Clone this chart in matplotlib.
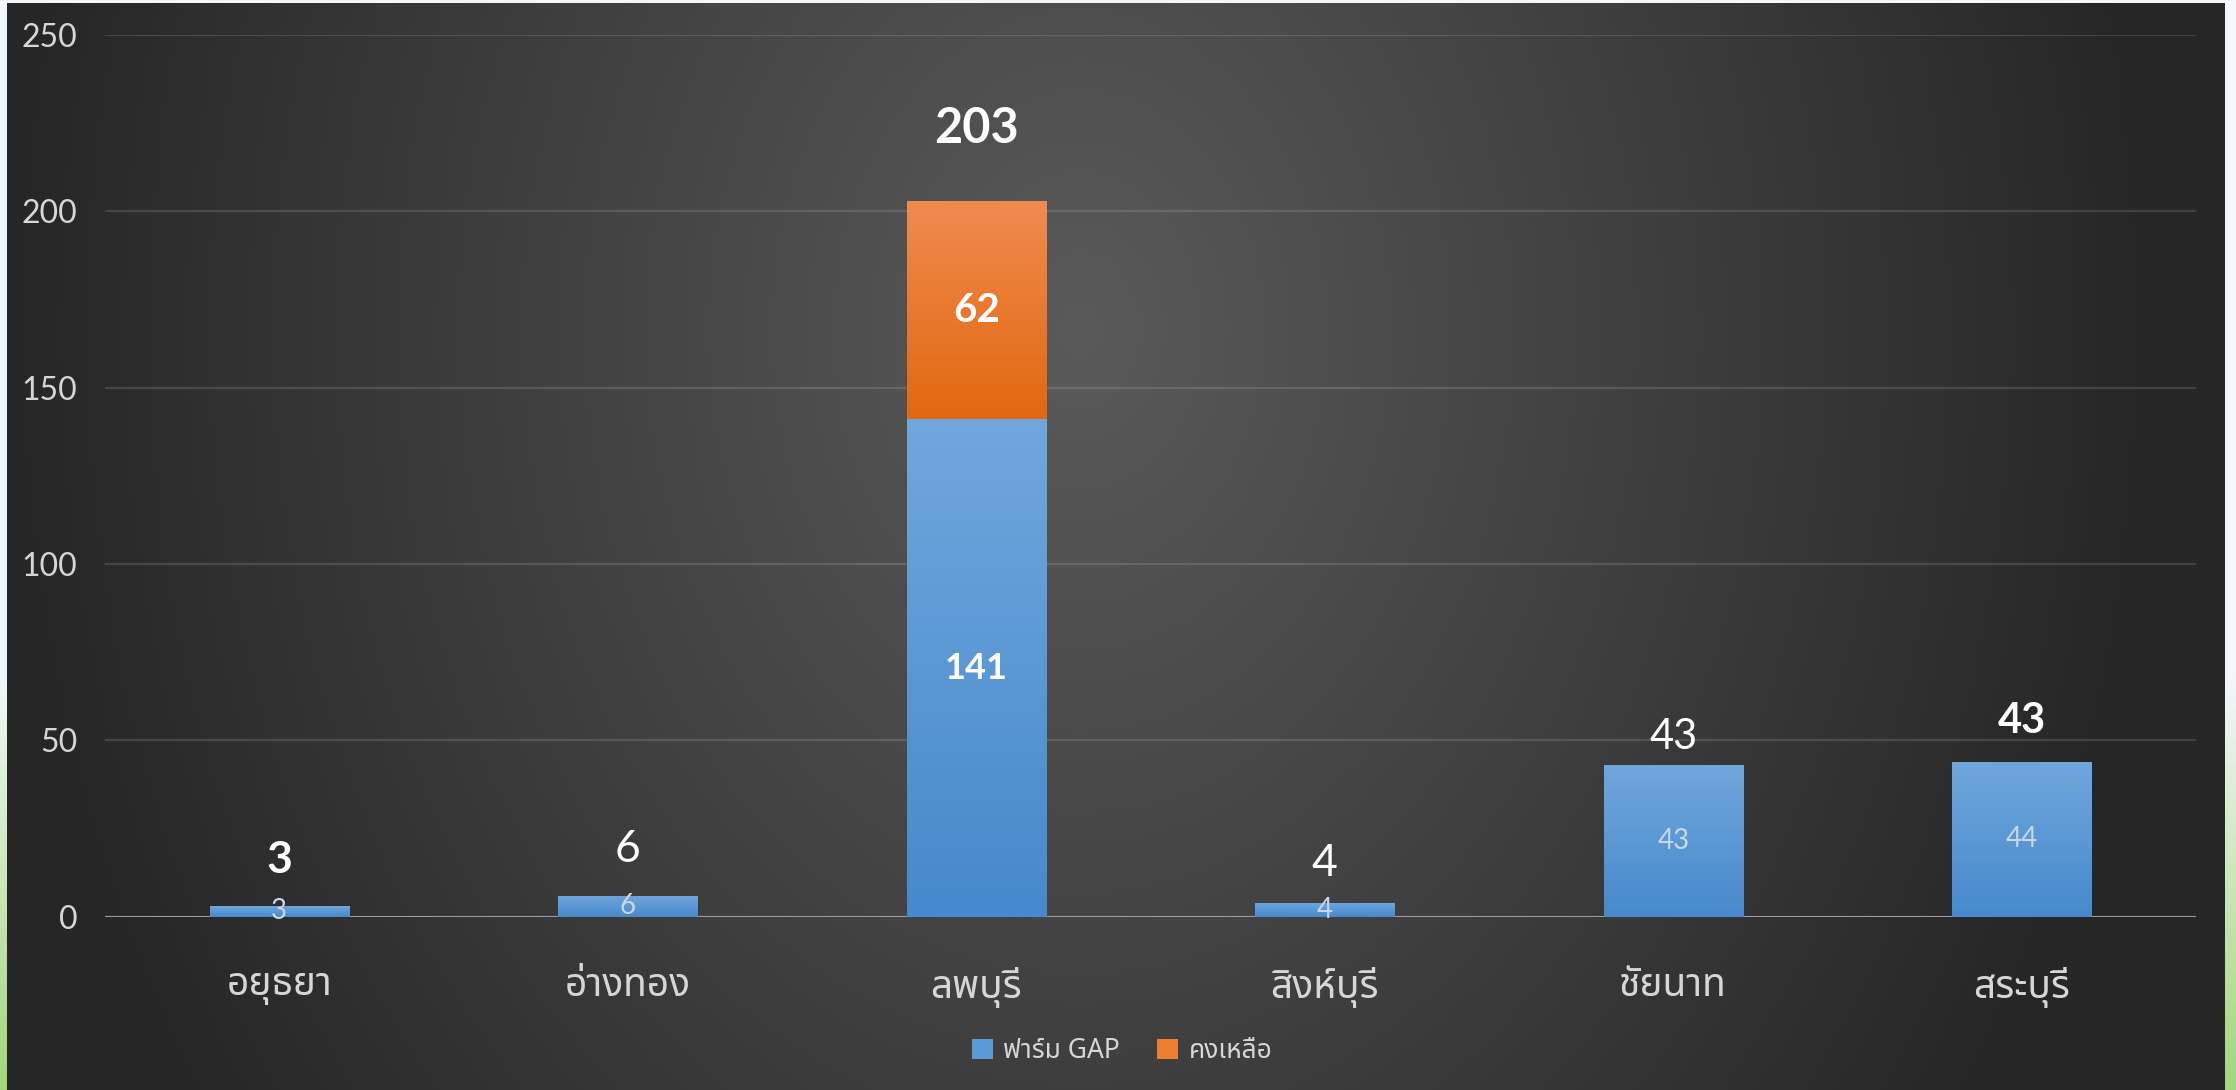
import numpy as np
import matplotlib
matplotlib.use('Agg')
import matplotlib.pyplot as plt
from matplotlib import font_manager
from matplotlib.ft2font import FT2Font
from matplotlib.colors import LinearSegmentedColormap
from matplotlib.patches import Patch

# ข้อมูล
provinces = ['อยุธยา', 'อ่างทอง', 'ลพบุรี', 'สิงห์บุรี', 'ชัยนาท', 'สระบุรี']
gap_farms = [3, 6, 141, 4, 43, 44]
remaining = [0, 0, 62, 0, 0, 0]
total_labels = ['3', '6', '203', '4', '43', '43']
series_names = ['ฟาร์ม GAP', 'คงเหลือ']
y_ticks = [0, 50, 100, 150, 200, 250]

# รูปแบบของป้ายตัวเลขด้านบน (ระยะห่าง pt, ขนาด, ความหนา)
top_offsets = [33, 33, 52, 28, 20, 29]
top_sizes = [32, 32, 35, 32, 30, 30]
top_weights = ['bold', 'normal', 'bold', 'normal', 'normal', 'bold']


def find_thai_font():
    names = []
    for f in font_manager.fontManager.ttflist:
        try:
            if ord('ก') in FT2Font(f.fname).get_charmap():
                names.append(f.name)
        except Exception:
            continue
    for pref in ['Noto Sans Thai', 'Noto Sans Thai UI', 'Loma', 'Tlwg Typo', 'Garuda']:
        if pref in names:
            return pref
    return names[0] if names else None


thai = find_thai_font()
thai_family = [thai, 'DejaVu Sans'] if thai else ['DejaVu Sans']
num_family = ['Lato', 'DejaVu Sans']
plt.rcParams['font.family'] = thai_family

fig = plt.figure(figsize=(22.36, 10.9), dpi=100, facecolor='#f3f7fb')
W, H = 2236.0, 1090.0

# แถบขอบด้านข้าง (ไล่สีเขียว)
edge_cmap = LinearSegmentedColormap.from_list(
    'edge', [(0, '#f3f7fb'), (0.62, '#f3f7fb'), (1.0, '#a3d67a')])
for x0, w in [(0, 7), (2225, 11)]:
    ea = fig.add_axes([x0 / W, 0, w / W, 1])
    ea.imshow(np.linspace(0, 1, 256).reshape(-1, 1), cmap=edge_cmap,
              aspect='auto', extent=[0, 1, 1, 0])
    ea.axis('off')

# พื้นหลังแบบไล่สีรัศมี
bg = fig.add_axes([7 / W, 0, (2225 - 7) / W, 1 - 3 / H])
xx, yy = np.meshgrid(np.linspace(7, 2225, 600), np.linspace(3, 1090, 300))
d = np.sqrt(((xx - 1080) / 1080) ** 2 + ((yy - 330) / 1400) ** 2)
shade = (38 + 52 * np.clip(1 - d, 0, 1)) / 255.0
bg.imshow(np.dstack([shade, shade, shade]), aspect='auto', extent=[0, 1, 0, 1])
bg.axis('off')

ax = fig.add_axes([105 / W, 1 - 916.7 / H, (2196 - 105) / W, (916.7 - 35) / H])
ax.set_facecolor('none')
x = np.arange(len(provinces))

b1 = ax.bar(x, gap_farms, width=0.4, color='#5b9bd5', zorder=3)
b2 = ax.bar(x, remaining, width=0.4, bottom=gap_farms, color='#ed7d31', zorder=3)

grad = np.linspace(0, 1, 256).reshape(-1, 1)
for bars, bottom_c, top_c in [(b1, '#4689cc', '#70a7dd'), (b2, '#e2680f', '#f08b50')]:
    cmap = LinearSegmentedColormap.from_list('g', [bottom_c, top_c])
    for b in bars:
        if b.get_height() <= 0:
            continue
        im = ax.imshow(grad, extent=[b.get_x(), b.get_x() + b.get_width(),
                                     b.get_y(), b.get_y() + b.get_height()],
                       origin='lower', cmap=cmap, aspect='auto', zorder=3.1)
        im.set_clip_path(b)

ax.set_xlim(-0.5, len(provinces) - 0.5)
ax.set_ylim(0, 250)
ax.set_yticks(y_ticks)
ax.grid(axis='y', color='white', alpha=0.13, linewidth=1.6, zorder=1)
ax.axhline(0, color='#9c9c9c', linewidth=2.2, zorder=2)
for s in ax.spines.values():
    s.set_visible(False)
ax.tick_params(axis='y', length=0, pad=20, labelsize=23, labelcolor='#d6d6d6')
ax.tick_params(axis='x', length=0, pad=36, labelsize=28, labelcolor='#d6d6d6')
ax.set_xticks(x)
ax.set_xticklabels(provinces, family=thai_family, fontweight='medium')
for t in ax.get_yticklabels():
    t.set_family(num_family)

# ป้ายค่าในแท่ง
for i in range(len(provinces)):
    if remaining[i] > 0:
        ax.text(x[i], gap_farms[i] / 2, str(gap_farms[i]), ha='center', va='center',
                color='white', fontsize=26, fontweight='bold', family=num_family, zorder=5)
        ax.text(x[i], gap_farms[i] + remaining[i] / 2, str(remaining[i]), ha='center',
                va='center', color='white', fontsize=29, fontweight='bold',
                family=num_family, zorder=5)
    else:
        ax.text(x[i], gap_farms[i] / 2, str(gap_farms[i]), ha='center', va='center',
                color='#c9d7e8', fontsize=20, family=num_family, zorder=5)

# ป้ายผลรวมด้านบน
for i in range(len(provinces)):
    top = gap_farms[i] + remaining[i]
    ax.annotate(total_labels[i], (x[i], top), xytext=(0, top_offsets[i]),
                textcoords='offset points', ha='center', va='center', color='white',
                fontsize=top_sizes[i], fontweight=top_weights[i], family=num_family,
                zorder=5)

handles = [Patch(facecolor='#5b9bd5'), Patch(facecolor='#ed7d31')]
leg = fig.legend(handles, series_names, loc='center', ncol=2, frameon=False,
                 bbox_to_anchor=(1122 / W, 1 - 1051 / H),
                 handlelength=0.8, handleheight=0.8, handletextpad=0.4,
                 columnspacing=1.4, prop={'family': thai_family, 'size': 19})
for t in leg.get_texts():
    t.set_color('#d6d6d6')

fig.savefig('out.png', dpi=100, facecolor=fig.get_facecolor())
